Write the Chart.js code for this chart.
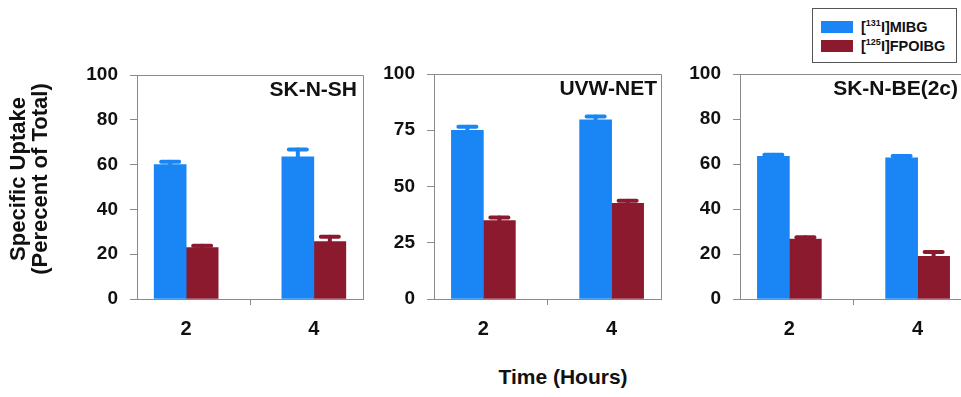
<!DOCTYPE html>
<html>
<head>
<meta charset="utf-8">
<script src="https://cdn.jsdelivr.net/npm/chart.js@4.4.1/dist/chart.umd.min.js"></script>
<style>
  html, body { margin:0; padding:0; background:#fff; width:961px; height:397px; overflow:hidden; }
  body { position:relative; font-family:"Liberation Sans", Arial, sans-serif; }
  .panel { position:absolute; top:0; height:340px; }
  #legend { position:absolute; left:812px; top:8px; width:145px; height:55px; border:1px solid #555; box-sizing:border-box; background:#fff; }
  .lrow { position:absolute; left:8px; height:12px; display:flex; align-items:center; }
  .sw { width:32px; height:12px; margin-right:8px; }
  .lt { font-weight:bold; font-size:14.5px; color:#111; white-space:nowrap; }
  .lt sup { font-size:9px; vertical-align:6px; line-height:0; }
  #xtitle { position:absolute; left:563px; top:377px; transform:translate(-50%,-50%); font-weight:bold; font-size:21px; color:#111; white-space:nowrap; }
  #ytitle { position:absolute; left:29px; top:179px; width:260px; transform:translate(-50%,-50%) rotate(-90deg); font-weight:bold; font-size:22px; line-height:22px; color:#111; text-align:center; white-space:nowrap; }
</style>
</head>
<body>
<div class="panel" style="left:0px;width:365px;"><canvas id="c1"></canvas></div>
<div class="panel" style="left:354px;width:309px;"><canvas id="c2"></canvas></div>
<div class="panel" style="left:660px;width:309px;"><canvas id="c3"></canvas></div>
<div id="ytitle">Specific Uptake<br>(Perecent of Total)</div>
<div id="xtitle">Time (Hours)</div>
<div id="legend">
  <div class="lrow" style="top:12px;"><div class="sw" style="background:#1a86f5"></div><span class="lt">[<sup>131</sup>I]MIBG</span></div>
  <div class="lrow" style="top:31px;"><div class="sw" style="background:#8b1a2e"></div><span class="lt">[<sup>125</sup>I]FPOIBG</span></div>
</div>
<script>
// ---- data ----
const categories = [2, 4];               // Time (Hours)
const seriesNames = ['[131I]MIBG', '[125I]FPOIBG'];
const panelNames = ['SK-N-SH', 'UVW-NET', 'SK-N-BE(2c)'];

const mibgSKNSH = [60.0, 63.5];
const mibgSKNSHErr = [1.3, 3.2];
const fpoibgSKNSH = [23.0, 25.6];
const fpoibgSKNSHErr = [0.8, 2.2];

const mibgUVW = [75.0, 79.6];
const mibgUVWErr = [1.6, 1.5];
const fpoibgUVW = [34.8, 42.5];
const fpoibgUVWErr = [1.4, 1.2];

const mibgBE2C = [63.4, 62.7];
const mibgBE2CErr = [0.7, 0.9];
const fpoibgBE2C = [26.6, 19.0];
const fpoibgBE2CErr = [0.8, 1.9];

const yTicks20 = [0, 20, 40, 60, 80, 100];
const yTicks25 = [0, 25, 50, 75, 100];

// ---- styling ----
const BLUE = '#1a86f5';
const RED = '#8b1a2e';
const AXIS = '#8a8a8a';
const TEXT = '#111';
const FONT = '"Liberation Sans", Arial, sans-serif';

const framePlugin = {
  id: 'frame',
  afterDraw(chart) {
    const {ctx, chartArea: a} = chart;
    ctx.save();
    ctx.strokeStyle = AXIS;
    ctx.lineWidth = 1;
    ctx.beginPath();
    ctx.moveTo(Math.round(a.left) + 0.5, Math.round(a.top) + 0.5);
    ctx.lineTo(Math.round(a.right) + 0.5, Math.round(a.top) + 0.5);
    ctx.lineTo(Math.round(a.right) + 0.5, Math.round(a.bottom) + 0.5);
    ctx.stroke();
    const name = chart.options.plugins.frame.name;
    ctx.fillStyle = TEXT;
    ctx.font = 'bold 21px ' + FONT;
    ctx.textAlign = 'right';
    ctx.textBaseline = 'alphabetic';
    ctx.fillText(name, a.right - chart.options.plugins.frame.inset, a.top + 21);
    ctx.restore();
  }
};

const errPlugin = {
  id: 'errbars',
  afterDatasetsDraw(chart) {
    const {ctx} = chart;
    const y = chart.scales.y;
    chart.data.datasets.forEach((ds, i) => {
      const meta = chart.getDatasetMeta(i);
      meta.data.forEach((el, j) => {
        const v = ds.data[j];
        const e = ds.errors[j];
        const yTop = y.getPixelForValue(v);
        const yErr = y.getPixelForValue(v + e);
        ctx.save();
        ctx.strokeStyle = ds.backgroundColor;
        ctx.lineCap = 'round';
        ctx.lineWidth = 4;
        ctx.beginPath();
        ctx.moveTo(el.x, yTop);
        ctx.lineTo(el.x, yErr);
        ctx.stroke();
        ctx.beginPath();
        ctx.moveTo(el.x - 9, yErr);
        ctx.lineTo(el.x + 9, yErr);
        ctx.stroke();
        ctx.restore();
      });
    });
  }
};

function makePanel(id, name, inset, blue, blueErr, red, redErr, yTicks, yWidth, topPad) {
  new Chart(document.getElementById(id), {
    type: 'bar',
    data: {
      labels: categories,
      datasets: [
        { label: seriesNames[0], data: blue, errors: blueErr, backgroundColor: BLUE, borderWidth: 0 },
        { label: seriesNames[1], data: red, errors: redErr, backgroundColor: RED, borderWidth: 0 }
      ]
    },
    options: {
      responsive: true,
      maintainAspectRatio: false,
      animation: false,
      devicePixelRatio: 1,
      layout: { padding: { left: 0, right: 2, top: topPad, bottom: 0 } },
      datasets: { bar: { barThickness: 32 } },
      plugins: {
        legend: { display: false },
        tooltip: { enabled: false },
        frame: { name: name, inset: inset }
      },
      scales: {
        x: {
          type: 'linear',
          min: 1.23, max: 4.77,
          offset: false,
          afterBuildTicks: s => { s.ticks = categories.map(v => ({ value: v })); },
          afterFit: s => { s.height = 41; },
          grid: { drawOnChartArea: false, drawTicks: true, tickLength: 6, color: AXIS },
          border: { display: true, color: AXIS, width: 1 },
          ticks: { color: TEXT, font: { family: FONT, size: 20, weight: 'bold' }, padding: 12, maxRotation: 0,
                   callback: v => String(v) }
        },
        y: {
          min: 0, max: 100,
          afterBuildTicks: s => { s.ticks = yTicks.map(v => ({ value: v })); },
          afterFit: s => { s.width = yWidth; },
          grid: { drawOnChartArea: false, drawTicks: true, tickLength: 7, color: AXIS },
          border: { display: true, color: AXIS, width: 1 },
          ticks: { color: TEXT, font: { family: FONT, size: 19, weight: 'bold' }, padding: 12 }
        }
      }
    },
    plugins: [framePlugin, errPlugin]
  });
}

makePanel('c1', panelNames[0], 6, mibgSKNSH, mibgSKNSHErr, fpoibgSKNSH, fpoibgSKNSHErr, yTicks20, 137, 75);
makePanel('c2', panelNames[1], 4, mibgUVW, mibgUVWErr, fpoibgUVW, fpoibgUVWErr, yTicks25, 80, 74);
makePanel('c3', panelNames[2], 9, mibgBE2C, mibgBE2CErr, fpoibgBE2C, fpoibgBE2CErr, yTicks20, 80, 74);
</script>
</body>
</html>
